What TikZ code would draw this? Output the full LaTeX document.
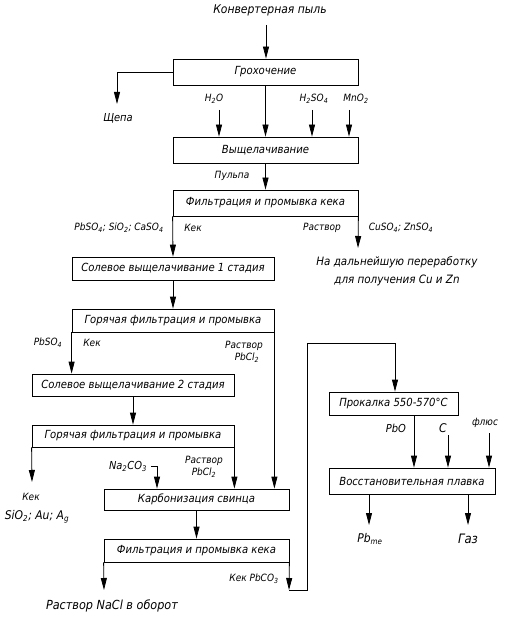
\documentclass[tikz,border=0pt]{standalone}
\usepackage{fontspec}
\setmainfont{DejaVu Sans Condensed}[ItalicFont={DejaVu Sans Condensed Oblique}]
\usetikzlibrary{arrows.meta}
\begin{document}
\begin{tikzpicture}[x=1pt,y=-1pt,
  every node/.style={font=\itshape\fontsize{11.2}{13}\selectfont, inner sep=1pt},
  box/.style={draw, line width=0.8pt, inner sep=0pt, minimum width=185pt, minimum height=26pt},
  lbl/.style={font=\itshape\fontsize{10}{12}\selectfont},
  mid/.style={font=\itshape\fontsize{11}{13}\selectfont},
  big/.style={font=\itshape\fontsize{12}{18}\selectfont, align=center},
  arr/.style={line width=0.8pt, -{Triangle[length=12pt,width=6pt]}},
  ln/.style={line width=0.8pt}]
\useasboundingbox (0,0) rectangle (505,620);
% boxes
\node[box] (groh) at (265.5,72) {Грохочение};
\node[box] (vysh) at (265.5,150) {Выщелачивание};
\node[box] (filt1) at (265.5,203) {Фильтрация и промывка кека};
\node[box, minimum width=202pt, minimum height=23pt] (sol1) at (173,268.5) {Солевое выщелачивание 1 стадия};
\node[box, minimum width=202pt, minimum height=23pt] (gor1) at (173,320.5) {Горячая фильтрация и промывка};
\node[box, minimum width=202pt, minimum height=22pt] (sol2) at (133,385) {Солевое выщелачивание 2 стадия};
\node[box, minimum width=202pt, minimum height=22pt] (gor2) at (133,436) {Горячая фильтрация и промывка};
\node[box, minimum height=21pt] (karb) at (196.5,499.5) {Карбонизация свинца};
\node[box, minimum height=23pt] (filt2) at (196.5,550.5) {Фильтрация и промывка кека};
\node[box, minimum width=129pt, minimum height=23pt] (prok) at (393.5,403.5) {Прокалка 550-570°С};
\node[box, minimum width=166pt, minimum height=26pt] (vosst) at (412,481) {Восстановительная плавка};
% labels
\node[big] (konv) at (270,10) {Конвертерная пыль};
\node[mid] (shepa) at (118,118) {Щепа};
\node[lbl] (h2o) at (214,99) {H\textsubscript{2}O};
\node[lbl] (h2so4) at (314,99) {H\textsubscript{2}SO\textsubscript{4}};
\node[lbl] (mno2) at (356,99) {MnO\textsubscript{2}};
\node[lbl] (pulpa) at (232,176) {Пульпа};
\node[lbl] (pbso4a) at (119,228) {PbSO\textsubscript{4}; SiO\textsubscript{2}; CaSO\textsubscript{4}};
\node[lbl] (keka) at (193,228) {Кек};
\node[lbl] (rastva) at (322,228) {Раствор};
\node[lbl] (cuso4) at (401,228) {CuSO\textsubscript{4}; ZnSO\textsubscript{4}};
\node[big, font=\itshape\fontsize{11.5}{18}\selectfont] (dalee) at (397,271) {На дальнейшую переработку\\для получения Cu и Zn};
\node[lbl] (pbso4b) at (48,343) {PbSO\textsubscript{4}};
\node[lbl] (kekb) at (92,343) {Кек};
\node[lbl, align=center] (rastvb) at (244,352) {Раствор\\\hspace*{6pt}PbCl\textsubscript{2}};
\node[lbl, align=center] (rastvc) at (204,467) {Раствор\\PbCl\textsubscript{2}};
\node[mid] (na2co3) at (128,466) {Na\textsubscript{2}CO\textsubscript{3}};
\node[lbl] (kekc) at (31,497) {Кек};
\node[big] (sio2) at (37,517) {SiO\textsubscript{2}; Au; A\textsubscript{g}};
\node[big, font=\itshape\fontsize{12.5}{15}\selectfont] (nacl) at (112,606) {Раствор NaCl в оборот};
\node[lbl] (kekpb) at (254,579) {Кек PbCO\textsubscript{3}};
\node[mid] (pbo) at (396,428) {PbO};
\node[big] (cc) at (443,428) {С};
\node[lbl] (flux) at (485,423) {флюс};
\node[big] (pbme) at (370,539) {Pb\textsubscript{me}};
\node[big, font=\itshape\fontsize{13}{15}\selectfont] (gaz) at (468,539) {Газ};
% coordinates
\coordinate (t0) at (266,25);
\coordinate (tshepa) at (117,104);
\coordinate (tdal) at (358,248);
\coordinate (tkek) at (32,482);
\coordinate (tnacl) at (104,590);
\coordinate (tkpb) at (289,590);
\coordinate (lp1) at (307,590);
\coordinate (lp2) at (307,343);
\coordinate (lp3) at (395,343);
\coordinate (hk) at (151,466);
\coordinate (hk2) at (157,466);
% connectors
\draw[arr] (t0) -- (groh.north -| t0);
\draw[arr] (groh.west) -| (tshepa);
\draw[arr] (groh.south) -- (vysh.north);
\draw[arr] (219,110) -- (vysh.north -| 219,0);
\draw[arr] (312,110) -- (vysh.north -| 312,0);
\draw[arr] (349,110) -- (vysh.north -| 349,0);
\draw[arr] (vysh.south) -- (filt1.north);
\draw[arr] (filt1.south west) -- (sol1.north);
\draw[arr] (filt1.south east) -- (tdal);
\draw[arr] (sol1.south) -- (gor1.north);
\draw[arr] (gor1.south west) -- (sol2.north -| gor1.south west);
\draw[arr] (gor1.south east) -- (karb.north -| gor1.south east);
\draw[arr] (sol2.south) -- (gor2.north);
\draw[arr] (gor2.south west) -- (tkek);
\draw[arr] (gor2.south east) -- (karb.north -| gor2.south east);
\draw[arr] (hk) -- (hk2) -- (karb.north -| hk2);
\draw[arr] (karb.south) -- (filt2.north);
\draw[arr] (filt2.south west) -- (tnacl);
\draw[arr] (filt2.south east) -- (tkpb);
\draw[arr] (tkpb) -- (lp1) -- (lp2) -- (lp3) -- (prok.north -| lp3);
\draw[arr] (prok.south -| 414,0) -- (vosst.north -| 414,0);
\draw[arr] (448,435) -- (vosst.north -| 448,0);
\draw[arr] (489,433) -- (vosst.north -| 489,0);
\draw[arr] (vosst.south -| 369,0) -- (369,525);
\draw[arr] (vosst.south -| 468,0) -- (468,525);
\end{tikzpicture}
\end{document}
